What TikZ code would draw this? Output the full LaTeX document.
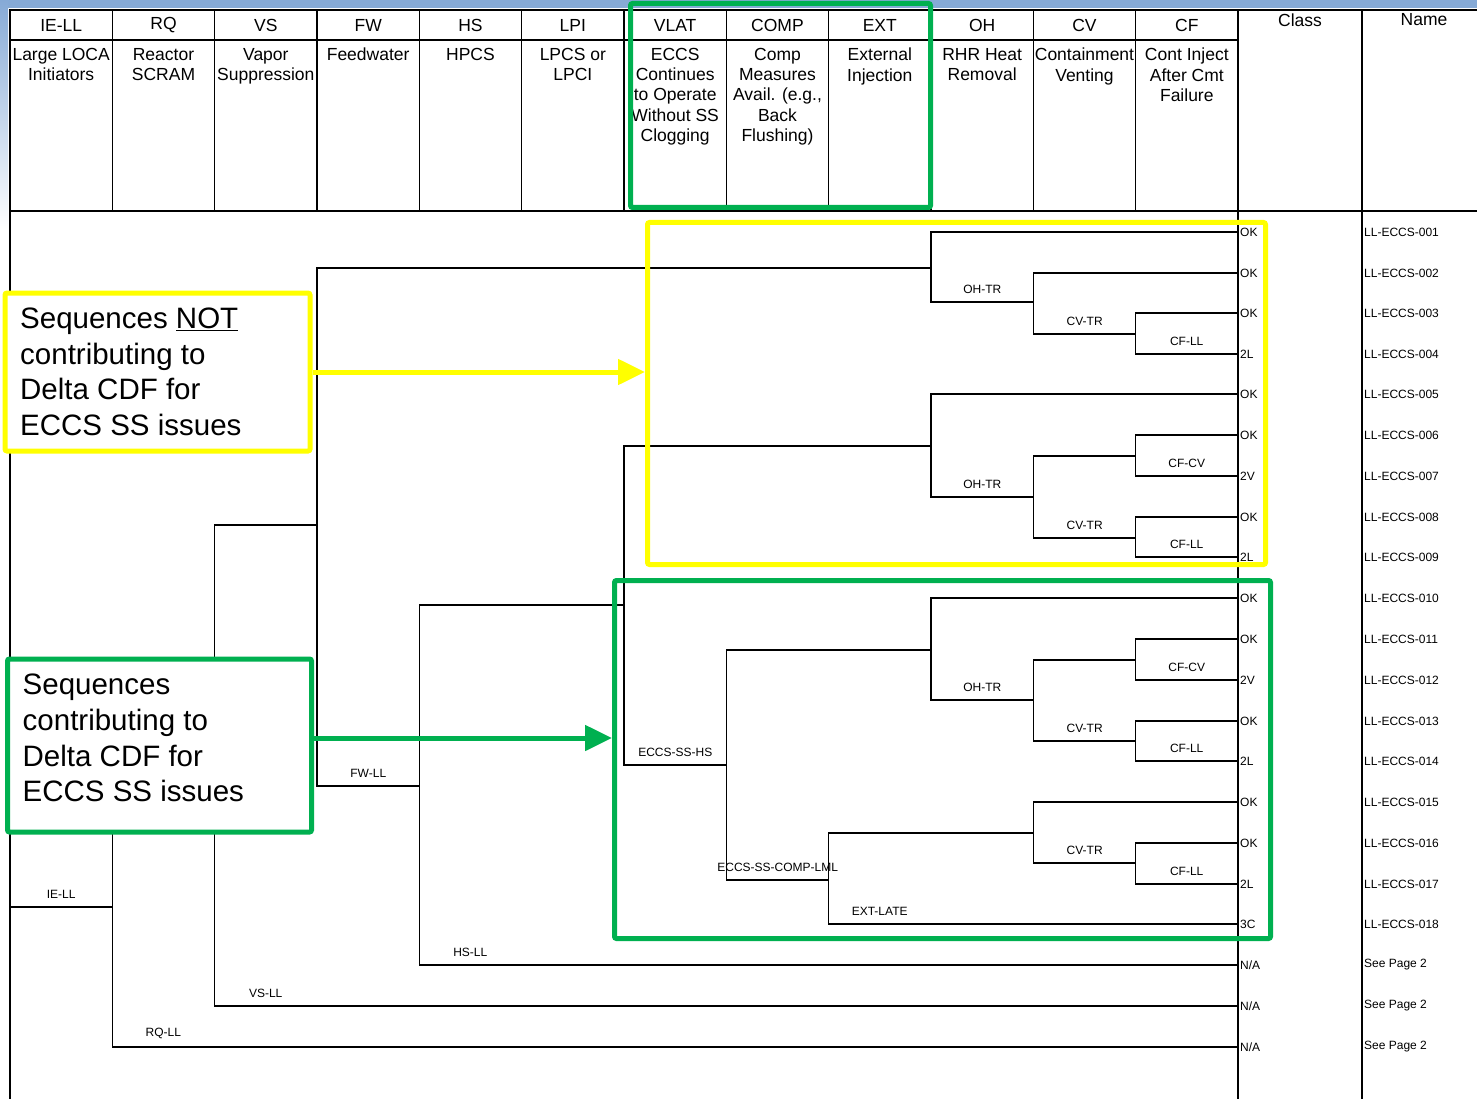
\documentclass[tikz,border=0pt]{standalone}
\usepackage{fontspec}
\setmainfont{Liberation Sans}
\usetikzlibrary{arrows.meta, positioning, calc}
\definecolor{HiYellow}{HTML}{FFFF00}
\definecolor{HiGreen}{HTML}{00B050}
\definecolor{SlideBlue}{HTML}{86AAD6}
\tikzset{
    colline/.style={line width=1.6pt, draw=black},
    treeline/.style={line width=1.4pt, draw=black},
    hdrtop/.style={font=\fontsize{17.5}{20}\selectfont, inner sep=0pt},
    hdrdesc/.style={font=\fontsize{17.5}{20.2}\selectfont, align=center, anchor=north, inner sep=0pt},
    brlabel/.style={font=\fontsize{12}{13}\selectfont, anchor=south, inner sep=0pt, yshift=8.5pt},
    endlabel/.style={font=\fontsize{12}{13}\selectfont, anchor=west, inner sep=0pt},
    hlbox/.style={line width=5pt, rounded corners=2pt},
    calloutbox/.style={hlbox, fill=white},
    callouttext/.style={font=\fontsize{29.5}{35.6}\selectfont, align=left, inner sep=0pt},
    hlarrow/.style={line width=5pt, -{Triangle[length=27pt, width=25pt]}}
}

\begin{document}
\begin{tikzpicture}[x=1pt, y=-1pt]
    \useasboundingbox (0,0) rectangle (1477,1099);

    % slide background
    \fill[SlideBlue] (0,0) rectangle (1477,8);
    \shade[top color=SlideBlue, bottom color=white] (0,0) rectangle (8,230);

    % table frame
    \draw[colline] (10,1099) -- (10,10) -- (1477,10);
    \draw[colline] (10,40) -- (1238,40);
    \draw[colline] (10,211) -- (1477,211);
    \foreach \k in {1,...,11}
        \draw[colline] ({10+102.33*\k},10) -- ({10+102.33*\k},211);
    \draw[line width=2.4pt] (1238,10) -- (1238,1099);
    \draw[colline] (1362,10) -- (1362,1099);

    % header
    \foreach \k/\colabbr/\coldesc in {0/IE-LL/{Large LOCA\\Initiators}, 1/RQ/{Reactor\\SCRAM},
        2/VS/{Vapor\\Suppression}, 3/FW/Feedwater, 4/HS/HPCS, 5/LPI/{LPCS or\\LPCI},
        6/VLAT/{ECCS\\Continues\\to Operate\\Without SS\\Clogging},
        7/COMP/{Comp\\Measures\\Avail. (e.g.,\\Back\\Flushing)}, 8/EXT/{External\\Injection},
        9/OH/{RHR Heat\\Removal}, 10/CV/{Containment\\Venting}, 11/CF/{Cont Inject\\After Cmt\\Failure}}{
        \node[hdrtop] (hdr\k) at ({61.17+102.33*\k},25) {\colabbr};
        \node[hdrdesc] (desc\k) at ({61.17+102.33*\k},48) {\coldesc};
    }
    \node[hdrtop] (hdrclass) at (1300,20) {Class};
    \node[hdrtop] (hdrname) at (1424,20) {Name};

    % end states
    \foreach \i/\yy/\cls/\seq in {1/232/OK/LL-ECCS-001, 2/273/OK/LL-ECCS-002, 3/313/OK/LL-ECCS-003,
        4/354/2L/LL-ECCS-004, 5/394/OK/LL-ECCS-005, 6/435/OK/LL-ECCS-006, 7/476/2V/LL-ECCS-007,
        8/517/OK/LL-ECCS-008, 9/557/2L/LL-ECCS-009, 10/598/OK/LL-ECCS-010, 11/639/OK/LL-ECCS-011,
        12/680/2V/LL-ECCS-012, 13/721/OK/LL-ECCS-013, 14/761/2L/LL-ECCS-014, 15/802/OK/LL-ECCS-015,
        16/843/OK/LL-ECCS-016, 17/884/2L/LL-ECCS-017, 18/924/3C/LL-ECCS-018,
        19/965/{N/A}/{See Page 2}, 20/1006/{N/A}/{See Page 2}, 21/1047/{N/A}/{See Page 2}}{
        \coordinate (e\i) at (1238,\yy);
        \node[endlabel] (cls\i) at (1240,\yy) {\cls};
        \node[endlabel] (seq\i) at (1364,\yy) {\seq};
    }

    % branch points
    \coordinate (ie) at (10,907);
    \coordinate (rq) at (112.3,907);
    \coordinate (vs) at (214.7,745);
    \coordinate (fw) at (317,525);
    \coordinate (hs) at (419.3,786);
    \coordinate (lpi) at (624,605);
    \coordinate (comp) at (726.3,765);
    \coordinate (ext) at (828.7,880);
    \coordinate (oha) at (931,268);
    \coordinate (ohb) at (931,446);
    \coordinate (ohc) at (931,650);
    \coordinate (cva) at (1033.3,302);
    \coordinate (cvb) at (1033.3,497);
    \coordinate (cvc) at (1033.3,700);
    \coordinate (cvd) at (1033.3,833);
    \coordinate (cfa) at (1135.7,334);
    \coordinate (cfb) at (1135.7,456);
    \coordinate (cfc) at (1135.7,538);
    \coordinate (cfd) at (1135.7,660);
    \coordinate (cfe) at (1135.7,741);
    \coordinate (cff) at (1135.7,863);

    % event tree
    \draw[treeline] (ie) -- (rq);
    \draw[treeline] (vs) -| (rq) |- (e21);
    \draw[treeline] (fw) -| (vs) |- (e20);
    \draw[treeline] (oha) -| (fw) |- (hs);
    \draw[treeline] (lpi) -| (hs) |- (e19);
    \draw[treeline] (ohb) -| (lpi) |- (comp);
    \draw[treeline] (ohc) -| (comp) |- (ext);
    \draw[treeline] (cvd) -| (ext) |- (e18);
    \draw[treeline] (e1) -| (oha) |- (cva);
    \draw[treeline] (e2) -| (cva) |- (cfa);
    \draw[treeline] (e3) -| (cfa) |- (e4);
    \draw[treeline] (e5) -| (ohb) |- (cvb);
    \draw[treeline] (cfb) -| (cvb) |- (cfc);
    \draw[treeline] (e6) -| (cfb) |- (e7);
    \draw[treeline] (e8) -| (cfc) |- (e9);
    \draw[treeline] (e10) -| (ohc) |- (cvc);
    \draw[treeline] (cfd) -| (cvc) |- (cfe);
    \draw[treeline] (e11) -| (cfd) |- (e12);
    \draw[treeline] (e13) -| (cfe) |- (e14);
    \draw[treeline] (e15) -| (cvd) |- (cff);
    \draw[treeline] (e16) -| (cff) |- (e17);

    % branch labels
    \node[brlabel] (lblie) at ($(ie)!0.5!(rq)$) {IE-LL};
    \node[brlabel] (lblrq) at ($(rq |- e21)+(51,0)$) {RQ-LL};
    \node[brlabel] (lblvs) at ($(vs |- e20)+(51,0)$) {VS-LL};
    \node[brlabel] (lblfw) at ($(hs)+(-51,0)$) {FW-LL};
    \node[brlabel] (lblhs) at ($(hs |- e19)+(51,0)$) {HS-LL};
    \node[brlabel] (lbllpi) at ($(comp)+(-51,0)$) {ECCS-SS-HS};
    \node[brlabel] (lblcomp) at ($(ext)+(-51,0)$) {ECCS-SS-COMP-LML};
    \node[brlabel] (lblext) at ($(ext |- e18)+(51,0)$) {EXT-LATE};
    \node[brlabel] (lbloha) at ($(cva)+(-51,0)$) {OH-TR};
    \node[brlabel] (lblohb) at ($(cvb)+(-51,0)$) {OH-TR};
    \node[brlabel] (lblohc) at ($(cvc)+(-51,0)$) {OH-TR};
    \node[brlabel] (lblcva) at ($(cfa)+(-51,0)$) {CV-TR};
    \node[brlabel] (lblcvb) at ($(cfc)+(-51,0)$) {CV-TR};
    \node[brlabel] (lblcvc) at ($(cfe)+(-51,0)$) {CV-TR};
    \node[brlabel] (lblcvd) at ($(cff)+(-51,0)$) {CV-TR};
    \node[brlabel] (lblcfa) at ($(cfa |- e4)+(51,0)$) {CF-LL};
    \node[brlabel] (lblcfb) at ($(cfb |- e7)+(51,0)$) {CF-CV};
    \node[brlabel] (lblcfc) at ($(cfc |- e9)+(51,0)$) {CF-LL};
    \node[brlabel] (lblcfd) at ($(cfd |- e12)+(51,0)$) {CF-CV};
    \node[brlabel] (lblcfe) at ($(cfe |- e14)+(51,0)$) {CF-LL};
    \node[brlabel] (lblcff) at ($(cff |- e17)+(51,0)$) {CF-LL};

    % highlight frames
    \node[hlbox, draw=HiGreen, minimum width=300pt, minimum height=204pt] (hlhead) at (780.5,105.5) {};
    \node[hlbox, draw=HiYellow, minimum width=618pt, minimum height=342pt] (hlnot) at (956.5,393.5) {};
    \node[hlbox, draw=HiGreen, minimum width=656pt, minimum height=358pt] (hlcontrib) at (942.5,759.5) {};

    % callouts
    \node[calloutbox, draw=HiYellow, minimum width=305pt, minimum height=158pt] (boxnot) at (157.5,372) {};
    \node[callouttext, below right=17.5pt and 17.5pt of boxnot.north west] (txtnot)
        {Sequences \underline{NOT}\\contributing to\\Delta CDF for\\ECCS SS issues};
    \node[calloutbox, draw=HiGreen, minimum width=304pt, minimum height=173pt] (boxcontrib) at (159.5,745.5) {};
    \node[callouttext, below right=17.5pt and 17.5pt of boxcontrib.north west] (txtcontrib)
        {Sequences\\contributing to\\Delta CDF for\\ECCS SS issues};

    \draw[hlarrow, HiYellow] (boxnot.east) -- (boxnot.east -| hlnot.west);
    \draw[hlarrow, HiGreen] ($(boxcontrib.east)+(0,-7.5)$) -- ($(boxcontrib.east -| hlcontrib.west)+(0,-7.5)$);
\end{tikzpicture}
\end{document}
